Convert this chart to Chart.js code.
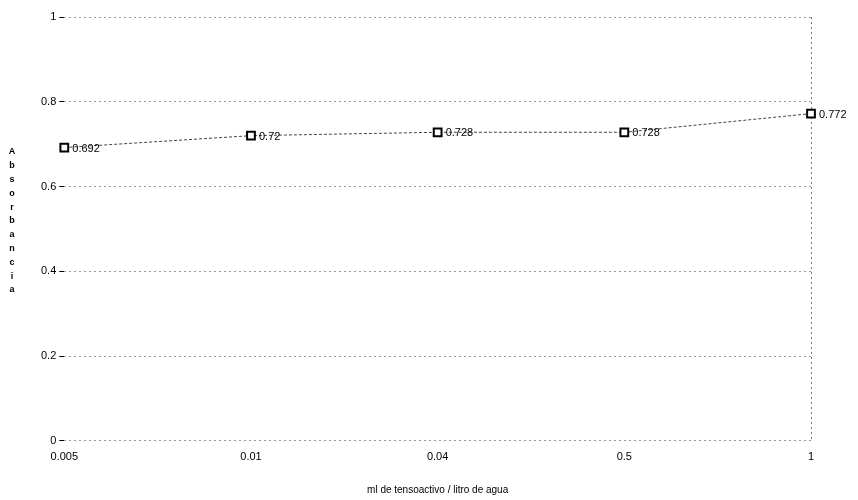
<!DOCTYPE html>
<html>
<head>
<meta charset="utf-8">
<script src="https://cdn.jsdelivr.net/npm/chart.js@4.4.1/dist/chart.umd.min.js"></script>
<style>
html,body{margin:0;padding:0;background:#fff;}
#wrap{width:858px;height:500px;position:relative;}
</style>
</head>
<body>
<div id="wrap"><canvas id="c" width="858" height="500"></canvas></div>
<script>
const categories = ['0.005', '0.01', '0.04', '0.5', '1'];
const absorbance = [0.692, 0.72, 0.728, 0.728, 0.772];
const valueLabels = ['0.692', '0.72', '0.728', '0.728', '0.772'];
const yTicks = [0, 0.2, 0.4, 0.6, 0.8, 1];
const yTitle = 'Absorbancia';
const xTitle = 'ml de tensoactivo / litro de agua';

const pointLabels = {
  id: 'pointLabels',
  afterDatasetsDraw(chart) {
    const ctx = chart.ctx;
    const meta = chart.getDatasetMeta(0);
    ctx.save();
    ctx.font = '11px "Liberation Sans", Arial, sans-serif';
    ctx.fillStyle = '#000';
    ctx.textAlign = 'left';
    ctx.textBaseline = 'middle';
    meta.data.forEach((pt, i) => {
      ctx.fillText(valueLabels[i], pt.x + 8, pt.y + 1);
    });
    ctx.restore();
  }
};

const stackedTitle = {
  id: 'stackedTitle',
  afterDraw(chart) {
    const ctx = chart.ctx;
    ctx.save();
    ctx.font = 'bold 9px "Liberation Sans", Arial, sans-serif';
    ctx.fillStyle = '#000';
    ctx.textAlign = 'center';
    ctx.textBaseline = 'middle';
    const letters = yTitle.split('');
    const step = 13.8;
    const start = 152;
    letters.forEach((ch, i) => ctx.fillText(ch, 12, start + i * step));
    ctx.restore();
  }
};

const rightBorder = {
  id: 'rightBorder',
  beforeDatasetsDraw(chart) {
    const ctx = chart.ctx;
    const a = chart.chartArea;
    ctx.save();
    ctx.strokeStyle = '#777';
    ctx.lineWidth = 1;
    ctx.setLineDash([2, 3]);
    ctx.beginPath();
    ctx.moveTo(a.right + 0.5, a.top);
    ctx.lineTo(a.right + 0.5, a.bottom);
    ctx.stroke();
    ctx.restore();
  }
};

new Chart(document.getElementById('c'), {
  type: 'line',
  data: {
    labels: categories,
    datasets: [{
      data: absorbance,
      borderColor: '#444',
      borderWidth: 1,
      borderDash: [3, 2],
      pointStyle: 'rect',
      pointRadius: 5.5,
      pointBorderWidth: 2,
      pointBorderColor: '#000',
      pointBackgroundColor: '#fff',
      tension: 0
    }]
  },
  options: {
    responsive: false,
    animation: false,
    layout: { padding: { left: 38, right: 47, top: 17, bottom: 4 } },
    plugins: { legend: { display: false }, tooltip: { enabled: false } },
    scales: {
      x: {
        offset: false,
        grid: { display: false },
        border: { display: false },
        ticks: { color: '#000', font: { size: 11, family: '"Liberation Sans", Arial, sans-serif' }, padding: 2, maxRotation: 0 },
        title: { display: true, text: xTitle, color: '#000', font: { size: 10, family: '"Liberation Sans", Arial, sans-serif' }, padding: { top: 18, bottom: 0 } }
      },
      y: {
        min: 0, max: 1,
        afterBuildTicks(axis) { axis.ticks = yTicks.map(v => ({ value: v })); },
        grid: { color: '#999', lineWidth: 1, tickLength: 5, tickColor: '#000' },
        border: { display: false, dash: [2, 3] },
        ticks: { color: '#000', font: { size: 11, family: '"Liberation Sans", Arial, sans-serif' }, padding: 3,
          callback: v => String(v) }
      }
    }
  },
  plugins: [pointLabels, stackedTitle, rightBorder]
});
</script>
</body>
</html>
